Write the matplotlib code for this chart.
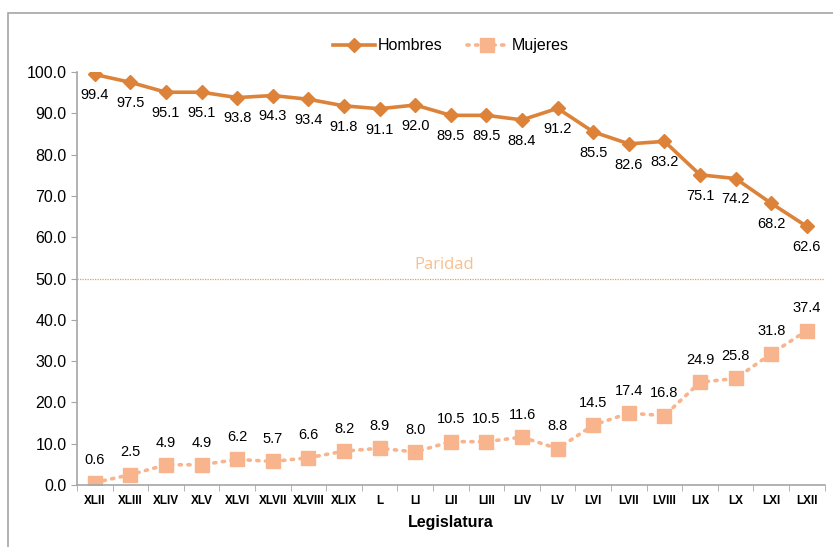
import numpy as np
import matplotlib.pyplot as plt
from matplotlib.patches import Rectangle

legislaturas = ['XLII', 'XLIII', 'XLIV', 'XLV', 'XLVI', 'XLVII', 'XLVIII', 'XLIX', 'L', 'LI',
                'LII', 'LIII', 'LIV', 'LV', 'LVI', 'LVII', 'LVIII', 'LIX', 'LX', 'LXI', 'LXII']
hombres = [99.4, 97.5, 95.1, 95.1, 93.8, 94.3, 93.4, 91.8, 91.1, 92.0,
           89.5, 89.5, 88.4, 91.2, 85.5, 82.6, 83.2, 75.1, 74.2, 68.2, 62.6]
mujeres = [0.6, 2.5, 4.9, 4.9, 6.2, 5.7, 6.6, 8.2, 8.9, 8.0,
           10.5, 10.5, 11.6, 8.8, 14.5, 17.4, 16.8, 24.9, 25.8, 31.8, 37.4]
paridad = 50

c_h = '#DC8339'
c_m = '#F8B48C'

plt.rcParams['font.family'] = ['Liberation Sans', 'DejaVu Sans']

fig = plt.figure(figsize=(8.33, 5.47), dpi=100)
ax = fig.add_axes([0.0924, 0.1133, 0.8976, 0.7551])
x = np.arange(len(legislaturas))

# outer chart frame
fig.patches.append(Rectangle((8/833, -0.05), 1.0, 1 - 13/547 + 0.05, transform=fig.transFigure,
                             fill=False, edgecolor='#A6A6A6', linewidth=1.2))

ax.plot(x, hombres, color=c_h, linewidth=2.6, marker='D', markersize=7, label='Hombres')
ax.plot(x, mujeres, color=c_m, linewidth=2.6, linestyle=(0, (0.6, 1.8)), dash_capstyle='round',
        marker='s', markersize=10, label='Mujeres')
ax.axhline(paridad, color='#F39A4A', linewidth=0.9, linestyle=(0, (1, 1)))
ax.text(9.8, paridad + 2.3, 'Paridad', color='#F9C08E', fontsize=12, family='Open Sans', ha='center')

for i in range(len(x)):
    ax.annotate(f'{hombres[i]:.1f}', (x[i], hombres[i]), xytext=(0, -10), textcoords='offset points',
                ha='center', va='top', fontsize=10.5)
    ax.annotate(f'{mujeres[i]:.1f}', (x[i], mujeres[i]), xytext=(0, 11), textcoords='offset points',
                ha='center', va='bottom', fontsize=10.5)

ax.set_xlim(-0.5, len(x) - 0.5)
ax.set_ylim(0, 100)
ax.set_yticks(np.arange(0, 101, 10))
ax.set_yticklabels([f'{v:.1f}' for v in np.arange(0, 101, 10)], fontsize=11.5)
ax.set_xticks(x)
ax.set_xticklabels(legislaturas, fontsize=8.5, fontweight='bold')
ax.set_xticks(np.arange(-0.5, len(x), 1), minor=True)
ax.tick_params(axis='x', which='major', length=0, pad=7)
ax.tick_params(axis='x', which='minor', length=4, color='#A6A6A6')
ax.tick_params(axis='y', length=4, color='#A6A6A6')
ax.set_xlabel('Legislatura', fontsize=11.5, fontweight='bold', labelpad=6)
for s in ['top', 'right']:
    ax.spines[s].set_visible(False)
for s in ['left', 'bottom']:
    ax.spines[s].set_color('#A6A6A6')
    ax.spines[s].set_linewidth(1.2)
ax.set_clip_on(False)

ax.legend(loc='lower center', bbox_to_anchor=(0.5, 1.01), ncol=2, frameon=False, fontsize=11.5,
          handlelength=2.6, columnspacing=1.5, handletextpad=0.2)

plt.savefig('out.png', dpi=100)
